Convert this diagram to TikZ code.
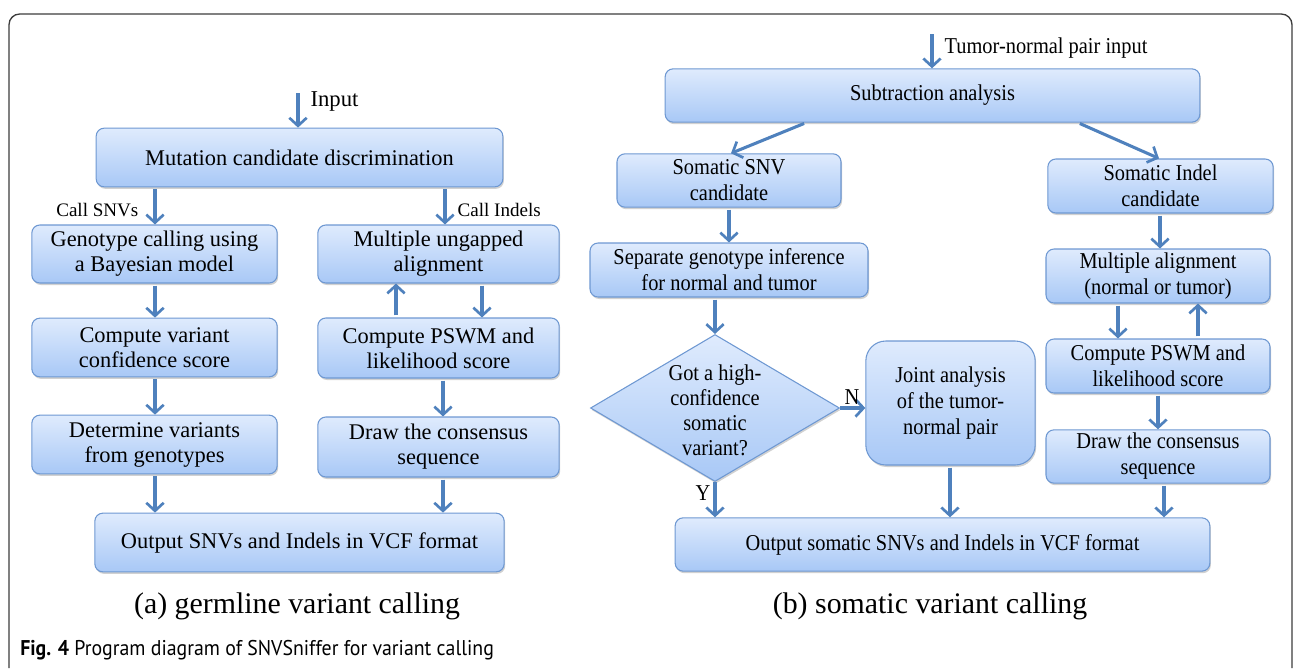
\documentclass[tikz,border=0pt]{standalone}
\usepackage{fontspec}
\setmainfont{Liberation Serif}
\newfontfamily\boxfont{Liberation Serif}
\newfontfamily\narrowfont[FakeStretch=0.9]{Liberation Serif}
\newfontfamily\capfont[FakeStretch=0.93]{PT Sans}
\usepackage{tikz}
\usetikzlibrary{shapes.geometric,shadows,arrows.meta}
\definecolor{boxtop}{HTML}{DFEBFD}
\definecolor{boxbot}{HTML}{A8C8F6}
\definecolor{boxline}{HTML}{6E98D2}
\definecolor{arrblue}{HTML}{4F81BD}
\definecolor{framegray}{HTML}{3C3C3C}

\begin{document}
\begin{tikzpicture}[x=0.75pt,y=-0.75pt, %pixel units, y downwards
  box/.style={draw=boxline, line width=0.8pt, rounded corners=6pt, top color=boxtop, bottom color=boxbot,
    align=center, inner sep=0pt, font=\boxfont\fontsize{16.8}{18.75}\selectfont,
    drop shadow={opacity=0.3, shadow xshift=0.8pt, shadow yshift=-1.5pt, fill=black!60}},
  rbox/.style={box, font=\narrowfont\fontsize{17}{19.5}\selectfont},
  dia/.style={box, shape=diamond, rounded corners=0pt},
  arr/.style={draw=arrblue, line width=2.3pt, shorten <=1.5pt, -{Straight Barb[length=6pt,width=13pt,line width=2pt]}},
  lbl/.style={inner sep=1pt, font=\narrowfont\fontsize{17}{19}\selectfont}]
\useasboundingbox (0,0) rectangle (1293,668);
\draw[framegray, line width=1pt, rounded corners=8pt] (9,668) -- (9,14) -- (1292,14) -- (1292,668);

% (a) germline
\node[box, minimum width=305pt, minimum height=44pt] (mut) at (299.5,157.5) {Mutation candidate discrimination};
\node[box, minimum width=184pt, minimum height=43.5pt] (geno) at (154.5,254) {Genotype calling using\\a Bayesian model};
\node[box, minimum width=181pt, minimum height=43.5pt] (ungap) at (438.5,254) {Multiple ungapped\\alignment};
\node[box, minimum width=184pt, minimum height=44pt] (conf) at (154.5,347.5) {Compute variant\\confidence score};
\node[box, minimum width=181pt, minimum height=45pt] (pswm) at (438.5,348) {Compute PSWM and\\likelihood score};
\node[box, minimum width=184pt, minimum height=44pt] (determ) at (154.5,444.5) {Determine variants\\from genotypes};
\node[box, minimum width=181pt, minimum height=45pt] (draw) at (438.5,447) {Draw the consensus\\sequence};
\node[box, minimum width=307pt, minimum height=44pt] (outL) at (299.5,542.5) {Output SNVs and Indels in VCF format};

\coordinate (inL) at (298,93);
\draw[arr, shorten <=0pt] (inL) -- (inL |- mut.north);
\node[lbl, anchor=west, font=\boxfont\fontsize{17}{19}\selectfont] (inLlbl) at (309,101) {Input};
\node[lbl, anchor=east, font=\boxfont\fontsize{14.3}{16}\selectfont] (snvlbl) at (140,210) {Call SNVs};
\node[lbl, anchor=west, font=\boxfont\fontsize{14.3}{16}\selectfont] (indlbl) at (456,210) {Call Indels};

\foreach \a/\b/\x in {mut/geno/155, mut/ungap/445, geno/conf/155, ungap/pswm/482,
                     conf/determ/155, pswm/draw/443, determ/outL/155, draw/outL/443} {
\draw[arr] (\a.south -| \x,0) -- (\b.north -| \x,0);
}
\draw[arr] (pswm.north -| 396,0) -- (ungap.south -| 396,0);

\node[font=\boxfont\fontsize{22.4}{24}\selectfont] (capa) at (297,606) {(a) germline variant calling};

% (b) somatic
\node[rbox, minimum width=401pt, minimum height=40pt] (sub) at (932.5,95.5) {Subtraction analysis};
\node[rbox, minimum width=168pt, minimum height=40pt] (snvc) at (729,180.5) {Somatic SNV\\candidate};
\node[rbox, minimum width=169pt, minimum height=40.5pt] (indc) at (1160.5,186) {Somatic Indel\\candidate};
\node[rbox, minimum width=208.5pt, minimum height=40.5pt] (sep) at (729,270) {Separate genotype inference\\for normal and tumor};
\node[rbox, minimum width=168pt, minimum height=40.5pt] (malign) at (1158,276) {Multiple alignment\\(normal or tumor)};
\node[rbox, minimum width=168pt, minimum height=40.5pt] (pswmb) at (1158,366) {Compute PSWM and\\likelihood score};
\node[rbox, minimum width=168pt, minimum height=40pt] (drawb) at (1158,456.5) {Draw the consensus\\sequence};
\node[dia, minimum width=186.75pt, minimum height=110.25pt] (q) at (715,408) {};
\node[align=center, inner sep=0pt, font=\narrowfont\fontsize{17}{18.75}\selectfont] (qtext) at (715,410) {Got a high-\\confidence\\somatic\\variant?};
\node[rbox, rounded corners=15pt, minimum width=127pt, minimum height=93pt] (joint) at (950.5,403) {Joint analysis\\of the tumor-\\normal pair};
\node[rbox, minimum width=401pt, minimum height=40pt] (outR) at (942.5,544.5) {Output somatic SNVs and Indels in VCF format};

\coordinate (inR) at (932,34);
\draw[arr, shorten <=0pt] (inR) -- (inR |- sub.north);
\node[lbl, anchor=west] (inRlbl) at (943,48) {Tumor-normal pair input};

\draw[arr] (sub.south -| 806,0) -- (snvc.north -| 731,0);
\draw[arr] (sub.south -| 1078,0) -- (indc.north -| 1159,0);
\foreach \a/\b/\x in {snvc/sep/729, indc/malign/1160, malign/pswmb/1118, pswmb/drawb/1158,
                     joint/outR/950, drawb/outR/1164} {
\draw[arr] (\a.south -| \x,0) -- (\b.north -| \x,0);
}
\draw[arr] (pswmb.north -| 1198,0) -- (malign.south -| 1198,0);
\draw[arr] (sep.south -| q.north) -- (q.north);
\draw[arr, shorten <=0pt] (q.east) -- (joint.west |- q.east);
\draw[arr, shorten <=0pt] (q.south) -- (outR.north -| q.south);
\node[lbl] (nlbl) at (852,397) {N};
\node[lbl] (ylbl) at (703,493) {Y};

\node[font=\boxfont\fontsize{22.4}{24}\selectfont] (capb) at (930,606) {(b) somatic variant calling};

\node[anchor=west, inner sep=0pt, font=\capfont\fontsize{16}{18}\selectfont] (fig) at (20,650) {\textbf{Fig. 4} Program diagram of SNVSniffer for variant calling};
\end{tikzpicture}
\end{document}
